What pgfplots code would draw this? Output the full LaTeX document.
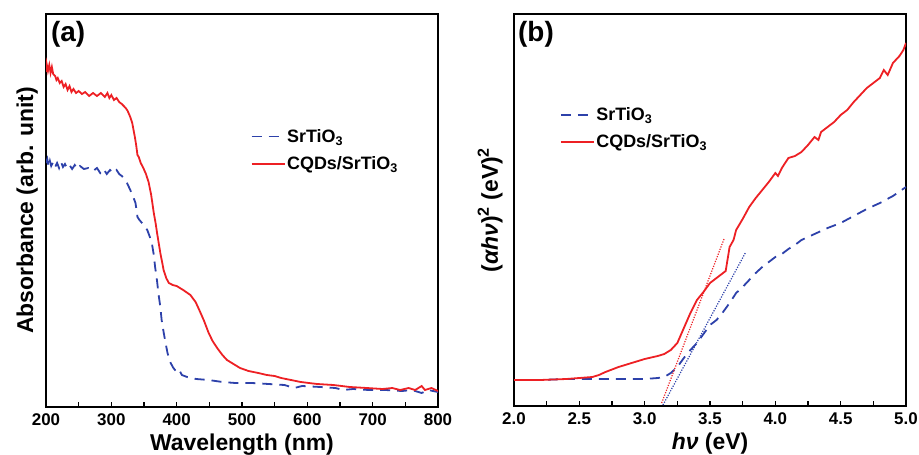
\documentclass[border=0pt]{standalone}
\usepackage{pgfplots}
\pgfplotsset{compat=1.18}
\usepackage{fontspec}
\setmainfont{Liberation Sans}

\definecolor{sblue}{RGB}{45,65,170}
\definecolor{sred}{RGB}{237,32,36}

\pgfplotsset{
  panel/.style={
    scale only axis,
    anchor=south west,
    width=392bp,
    axis line style={line width=1.5bp},
    ytick=\empty,
    xtick pos=bottom,
    tick align=inside,
    minor x tick num=1,
    major tick length=5bp,
    minor tick length=5bp,
    every tick/.style={black, line width=1.2bp},
    /pgf/number format/assume math mode=true,
    xticklabel style={font=\bfseries\fontsize{17}{17}\selectfont, yshift=-3bp},
    label style={font=\bfseries\fontsize{23}{23}\selectfont},
    legend style={draw=none, fill=none, inner sep=0pt,
      font=\bfseries\fontsize{18}{18}\selectfont, row sep=10bp,
      nodes={inner sep=1.5bp}},
    legend cell align=left,
    legend image code/.code={\draw[##1, line width=1.8bp] (0bp,0bp) -- (33bp,0bp);},
  },
  sto/.style={sblue, line width=1.8bp, dash pattern=on 10bp off 7bp},
  cqd/.style={sred, line width=1.8bp},
}

\begin{document}
\begin{tikzpicture}
\useasboundingbox (0bp,0bp) rectangle (919bp,-455bp);

% (a) absorbance spectra
\begin{axis}[panel, at={(46bp,-407bp)}, height=393bp,
  xmin=200, xmax=800, ymin=0, ymax=393,
  xtick={200,300,...,800},
  xlabel={Wavelength (nm)},
  xlabel style={at={(axis description cs:0.5,0)}, anchor=base, yshift=-43bp},
  ylabel={Absorbance (arb. unit)},
  ylabel style={at={(axis description cs:-0.033,0.5)}, anchor=base},
  legend style={at={(axis description cs:0.522,0.711)}, anchor=north west},
]
\addplot[sto] coordinates {
  (200,244) (202,248) (204,240) (206,246) (208,241) (211,245) (214,240)
  (217,244) (220,239) (223,245) (226,240) (229,243) (232,239) (236,242)
  (240,238) (244,242) (248,238) (252,241) (258,238) (265,239) (272,236)
  (278,239) (283,234) (288,238) (293,233) (298,237) (303,234) (308,237)
  (312,233) (316,231) (319,229) (324,224) (329,217) (333,211) (337,204)
  (340,190) (343,187) (347,184) (351,181) (355,177) (359,170) (362,164)
  (365,152) (367,140) (370,126) (372,114) (375,100) (377,87) (380,75)
  (383,64) (386,54) (390,45) (395,39) (400,35) (404,37) (408,32) (416,30)
  (430,28) (449,27) (470,25) (490,24) (515,24) (541,23) (565,22) (580,19)
  (592,21) (620,20) (643,19) (655,17) (670,18) (694,17) (720,17) (745,16)
  (760,17) (775,14) (785,17) (800,15)
};
\addlegendentry{SrTiO\textsubscript{3}}
\addplot[cqd] coordinates {
  (200,335) (201,343) (203,336) (205,342) (207,334) (209,340) (211,333)
  (214,331) (216,327) (218,329) (221,324) (224,326) (227,320) (230,323)
  (233,317) (236,321) (239,315) (242,318) (246,314) (250,316) (255,313)
  (260,315) (266,311) (272,314) (278,311) (284,314) (290,310) (294,314)
  (297,309) (300,312) (304,307) (308,309) (312,305) (316,303) (319,301)
  (322,299) (325,296) (329,290) (332,284) (334,277) (336,270) (338,262)
  (340,252) (342,250) (345,244) (349,239) (353,233) (357,225) (361,212)
  (365,194) (368,183) (370,174) (373,162) (375,154) (378,144) (380,137)
  (384,129) (388,124) (394,122) (400,121) (410,117) (421,112) (429,105)
  (436,95) (442,86) (449,74) (455,66) (462,59) (470,52) (477,47) (487,43)
  (497,39) (510,36) (525,34) (538,32) (550,31) (560,29) (575,27) (590,25)
  (615,23) (640,22) (665,20) (691,19) (715,18) (730,19) (742,17) (755,19)
  (765,17) (775,21) (780,17) (790,19) (800,16)
};
\addlegendentry{CQDs/SrTiO\textsubscript{3}}
\end{axis}
\node[anchor=north west, inner sep=0pt, font=\bfseries\fontsize{28}{28}\selectfont]
  at (51bp,-21bp) {(a)};

% (b) Tauc plot
\begin{axis}[panel, at={(514bp,-406bp)}, height=392bp,
  xmin=2, xmax=5, ymin=0, ymax=392,
  xtick={2,2.5,...,5},
  xticklabel style={/pgf/number format/fixed, /pgf/number format/fixed zerofill,
    /pgf/number format/precision=1},
  xlabel={\textit{hν} (eV)},
  xlabel style={at={(axis description cs:0.5,0)}, anchor=base, yshift=-43bp},
  ylabel={(\textit{αhν})\textsuperscript{2} (eV)\textsuperscript{2}},
  ylabel style={at={(axis description cs:-0.041,0.5)}, anchor=base},
  legend style={at={(axis description cs:0.117,0.766)}, anchor=north west},
]
\addplot[sto] coordinates {
  (2.0,26) (2.2,26) (2.4,27) (2.6,27) (2.8,27) (3.0,27) (3.1,28) (3.15,29)
  (3.2,33) (3.25,39) (3.3,48) (3.35,56) (3.4,63) (3.45,72) (3.5,81)
  (3.55,86) (3.6,94) (3.65,103) (3.7,113) (3.75,119) (3.8,126) (3.85,133)
  (3.9,139) (3.95,144) (4.0,149) (4.05,152) (4.1,157) (4.15,161) (4.2,166)
  (4.3,172) (4.4,178) (4.5,183) (4.6,190) (4.7,197) (4.8,203) (4.9,210)
  (5.0,219)
};
\addlegendentry{SrTiO\textsubscript{3}}
\addplot[cqd] coordinates {
  (2.0,26) (2.2,26) (2.4,27) (2.5,28) (2.6,29) (2.65,31) (2.7,34) (2.8,39)
  (2.9,43) (3.0,47) (3.1,50) (3.15,52) (3.2,56) (3.25,63) (3.3,78)
  (3.35,93) (3.4,106) (3.45,114) (3.5,123) (3.55,128) (3.6,133) (3.62,135)
  (3.63,143) (3.65,159) (3.68,166) (3.7,176) (3.75,187) (3.8,199)
  (3.85,208) (3.9,216) (3.95,224) (4.0,233) (4.02,230) (4.05,238)
  (4.1,248) (4.15,250) (4.2,254) (4.25,261) (4.3,269) (4.33,266)
  (4.35,274) (4.4,279) (4.45,284) (4.5,291) (4.55,296) (4.6,304)
  (4.65,311) (4.7,318) (4.75,323) (4.8,328) (4.83,336) (4.86,331)
  (4.9,343) (4.95,350) (4.98,356) (5.0,363)
};
\addlegendentry{CQDs/SrTiO\textsubscript{3}}
% linear fits to the absorption edge
\addplot[sred, line width=1.2bp, dash pattern=on 1.2bp off 1.4bp, forget plot]
  coordinates {(3.13,3) (3.61,168)};
\addplot[sblue, line width=1.2bp, dash pattern=on 1.2bp off 1.4bp, forget plot]
  coordinates {(3.14,1) (3.77,153)};
\end{axis}
\node[anchor=north west, inner sep=0pt, font=\bfseries\fontsize{28}{28}\selectfont]
  at (518bp,-21bp) {(b)};
\end{tikzpicture}
\end{document}
